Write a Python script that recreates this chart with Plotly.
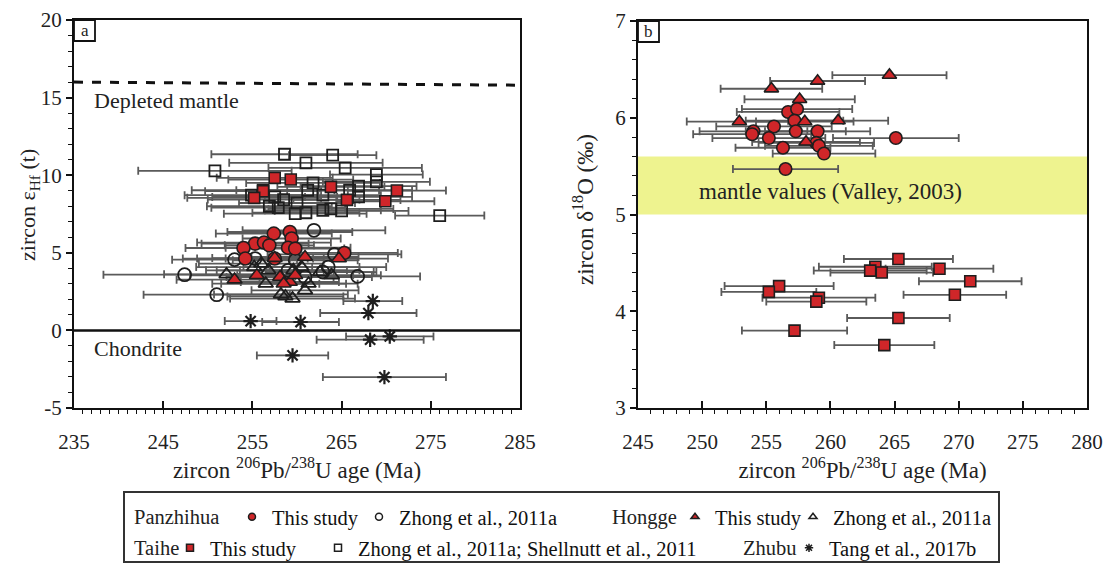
import plotly.graph_objects as go

FONT = "Liberation Serif, Times New Roman, Tinos, DejaVu Serif, serif"
RED = "#cf2629"
EDGE = "#1e1e1e"
ERR = "#5a5a5a"
BAND = "#eef38f"

# ---------------- Panel a: zircon eHf(t) vs age ----------------
pz_this_age = [257.4, 259.2, 259.4, 255.3, 256.3, 256.9, 254.0, 259.0, 259.8, 265.3, 254.2, 257.5]
pz_this_eps = [6.24, 6.34, 5.92, 5.59, 5.66, 5.48, 5.31, 5.33, 5.27, 4.99, 4.63, 4.63]
pz_this_err = [6.5, 7.0, 5.5, 6.0, 7.5, 5.0, 6.5, 7.0, 5.5, 6.0, 7.0, 5.5]

pz_zhong_age = [261.9, 253.0, 264.2, 247.4, 266.8, 251.0, 255.3, 262.9, 260.9, 259.0, 263.5, 259.8]
pz_zhong_eps = [6.45, 4.56, 4.90, 3.59, 3.48, 2.30, 4.63, 3.76, 3.44, 3.87, 4.08, 4.52]
pz_zhong_err = [8.0, 7.0, 7.5, 9.1, 7.0, 8.2, 6.5, 6.0, 7.5, 8.0, 6.5, 7.0]

hg_this_age = [264.7, 260.9, 257.5, 253.0, 255.5, 258.1, 259.2, 258.5, 259.8]
hg_this_eps = [4.63, 4.73, 4.66, 3.27, 3.55, 3.44, 3.12, 3.01, 3.55]
hg_this_err = [5.5, 6.0, 7.0, 6.5, 7.5, 6.0, 5.5, 7.0, 6.5]

hg_zhong_age = [252.1, 256.5, 255.2, 256.0, 260.9, 263.9, 262.6, 258.2, 258.7, 259.5, 261.3, 259.6, 256.8, 260.5]
hg_zhong_eps = [3.61, 3.01, 4.08, 4.30, 2.58, 3.55, 3.76, 2.32, 2.19, 2.05, 3.01, 3.87, 3.87, 4.08]
hg_zhong_err = [7.0, 6.0, 6.5, 7.0, 6.0, 5.5, 6.0, 7.5, 6.5, 7.0, 5.5, 6.0, 7.0, 6.5]

th_this_age = [257.5, 259.3, 263.8, 271.2, 256.2, 255.2, 265.6, 269.9]
th_this_eps = [9.83, 9.72, 9.25, 9.01, 8.97, 8.54, 8.41, 8.32]
th_this_err = [6.5, 7.0, 6.0, 5.5, 6.5, 7.5, 6.0, 5.5]

th_zhong_age = [258.6, 264.0, 261.0, 250.8, 265.4, 268.9, 268.9, 261.8, 266.9, 261.2, 265.9, 262.9, 266.9,
                254.9, 256.2, 257.5, 258.5, 260.0, 256.9, 257.9, 259.8, 261.0, 262.9, 263.8, 265.0, 276.0]
th_zhong_eps = [11.35, 11.29, 10.80, 10.28, 10.47, 10.04, 9.57, 9.50, 9.29, 9.03, 9.03, 8.71, 8.60,
                8.71, 9.03, 8.60, 8.43, 8.21, 8.00, 7.91, 7.52, 7.58, 7.74, 7.83, 7.70, 7.40]
th_zhong_err = [8.2, 4.9, 8.6, 8.6, 8.6, 5.2, 6.0, 7.5, 6.5, 8.0, 7.0, 6.5, 6.0,
                7.5, 8.0, 7.0, 8.5, 6.5, 7.0, 7.5, 8.0, 6.0, 6.5, 7.0, 7.5, 5.0]

zb_age = [268.5, 268.0, 254.8, 260.4, 270.4, 268.2, 259.5, 269.8]
zb_eps = [1.89, 1.12, 0.60, 0.54, -0.39, -0.60, -1.61, -3.01]
zb_err = [3.3, 5.4, 2.9, 4.3, 4.9, 6.0, 4.0, 6.9]

DM_LINE = [16.0, 15.8]   # depleted mantle line (left, right)
CHUR = 0.0

# ---------------- Panel b: zircon d18O vs age ----------------
pz_b_age = [256.7, 257.4, 257.2, 255.6, 254.0, 253.9, 257.3, 259.0, 255.2, 258.9, 259.1, 256.3, 259.5, 265.1, 256.5]
pz_b_d18o = [6.06, 6.09, 5.97, 5.91, 5.86, 5.83, 5.86, 5.86, 5.79, 5.74, 5.71, 5.69, 5.63, 5.79, 5.47]
pz_b_err = [4.0, 4.3, 3.8, 4.5, 4.2, 4.6, 3.9, 4.1, 4.4, 4.5, 4.2, 3.7, 4.0, 4.9, 4.1]

hg_b_age = [264.6, 259.0, 255.4, 257.6, 252.9, 258.0, 260.6, 258.1]
hg_b_d18o = [6.44, 6.38, 6.30, 6.19, 5.96, 5.96, 5.97, 5.75]
hg_b_err = [4.45, 3.7, 3.96, 4.3, 4.1, 3.8, 3.9, 4.2]

th_b_age = [265.3, 263.5, 263.1, 264.0, 268.5, 270.9, 269.7, 256.0, 255.2, 259.1, 258.9, 265.3, 257.2, 264.2]
th_b_d18o = [4.54, 4.46, 4.42, 4.40, 4.44, 4.31, 4.17, 4.26, 4.20, 4.14, 4.10, 3.93, 3.80, 3.65]
th_b_err = [4.25, 4.4, 4.4, 4.0, 4.2, 4.0, 4.0, 4.25, 3.7, 4.4, 3.9, 4.0, 4.1, 3.9]

MANTLE_BAND = [5.0, 5.6]

W, H = 1103, 564


def PX(px):
    return px / W


def PY(py):
    return 1 - py / H


fig = go.Figure()


def add_series(xa, ya, x, y, err, symbol, size, color, lw, lcolor):
    # error bars first (so markers sit on top)
    fig.add_trace(go.Scatter(
        x=x, y=y, mode="markers", xaxis=xa, yaxis=ya,
        marker=dict(size=1, color="rgba(0,0,0,0)"),
        error_x=dict(type="data", array=err, color=ERR, thickness=1.8, width=4),
        showlegend=False, hoverinfo="skip"))
    return dict(x=x, y=y, mode="markers", xaxis=xa, yaxis=ya, showlegend=False,
                marker=dict(symbol=symbol, size=size, color=color,
                            line=dict(width=lw, color=lcolor)))


markers = []
# panel a
markers.append(add_series("x", "y", th_zhong_age, th_zhong_eps, th_zhong_err, "square-open", 11, EDGE, 1.8, EDGE))
markers.append(add_series("x", "y", pz_zhong_age, pz_zhong_eps, pz_zhong_err, "circle-open", 13, EDGE, 1.8, EDGE))
markers.append(add_series("x", "y", hg_zhong_age, hg_zhong_eps, hg_zhong_err, "triangle-up-open", 13, EDGE, 1.8, EDGE))
markers.append(add_series("x", "y", th_this_age, th_this_eps, th_this_err, "square", 11, RED, 1.6, EDGE))
markers.append(add_series("x", "y", pz_this_age, pz_this_eps, pz_this_err, "circle", 13, RED, 1.6, EDGE))
markers.append(add_series("x", "y", hg_this_age, hg_this_eps, hg_this_err, "triangle-up", 13, RED, 1.6, EDGE))
markers.append(add_series("x", "y", zb_age, zb_eps, zb_err, "asterisk-open", 12, EDGE, 2.2, EDGE))
# panel b
markers.append(add_series("x2", "y2", th_b_age, th_b_d18o, th_b_err, "square", 11, RED, 1.6, EDGE))
markers.append(add_series("x2", "y2", pz_b_age, pz_b_d18o, pz_b_err, "circle", 12.5, RED, 1.6, EDGE))
markers.append(add_series("x2", "y2", hg_b_age, hg_b_d18o, hg_b_err, "triangle-up", 12.5, RED, 1.6, EDGE))
for m in markers:
    fig.add_trace(go.Scatter(hoverinfo="x+y", **m))

# ---------------- legend (legend-only traces) ----------------
leg_items = [
    ("legend", "This study", "circle", RED, EDGE, 7),
    ("legend2", "Zhong et al., 2011a", "circle-open", EDGE, EDGE, 7),
    ("legend3", "This study", "triangle-up", RED, EDGE, 7),
    ("legend4", "Zhong et al., 2011a", "triangle-up-open", EDGE, EDGE, 7),
    ("legend5", "This study", "square", RED, EDGE, 7),
    ("legend6", "Zhong et al., 2011a; Shellnutt et al., 2011", "square-open", EDGE, EDGE, 7),
    ("legend7", "Tang et al., 2017b", "asterisk-open", EDGE, EDGE, 7),
]
for lg, nm, sym, col, lc, sz in leg_items:
    fig.add_trace(go.Scatter(x=[None], y=[None], mode="markers", name=nm, legend=lg,
                             xaxis="x", yaxis="y", showlegend=True,
                             marker=dict(symbol=sym, size=sz, color=col, line=dict(width=1.5, color=lc))))

# legend text-start x (px) and row y (px), in page pixels
leg_pos = {"legend": (272, 517), "legend2": (399, 517), "legend3": (715, 517), "legend4": (833, 517),
           "legend5": (210, 548), "legend6": (358, 548), "legend7": (829, 548)}
leg_layout = {}
for k, (tx, ty) in leg_pos.items():
    leg_layout[k] = dict(x=PX(tx - 40), y=PY(ty), xanchor="left", yanchor="middle",
                         bgcolor="rgba(0,0,0,0)", borderwidth=0, itemsizing="trace",
                         font=dict(family=FONT, size=20.5, color="#111"), orientation="h")

tickfont = dict(family=FONT, size=21, color="#222")
xtitlefont = dict(family=FONT, size=23, color="#222")

common_x = dict(showline=True, linewidth=2, linecolor="#111", mirror=True, showgrid=False, zeroline=False,
                ticks="inside", ticklen=7, tickwidth=1.5, tickcolor="#111", tickfont=tickfont,
                ticklabelstandoff=14, automargin=False, ticklabeloverflow="allow")
common_y = dict(showline=True, linewidth=2, linecolor="#111", mirror=True, showgrid=False, zeroline=False,
                ticks="outside", ticklen=6, tickwidth=1.5, tickcolor="#111", tickfont=tickfont,
                automargin=False, ticklabeloverflow="allow")

fig.update_layout(
    template="none",
    width=W, height=H, margin=dict(l=0, r=0, t=0, b=0, autoexpand=False),
    paper_bgcolor="white", plot_bgcolor="white",
    font=dict(family=FONT, size=20, color="#222"),
    xaxis=dict(domain=[PX(74), PX(520)], range=[235, 285], tickvals=[235, 245, 255, 265, 275, 285],
               minor=dict(dtick=1, ticks="outside", ticklen=4, tickwidth=1, tickcolor="#111"),
               title=dict(text="zircon <sup>206</sup>Pb/<sup>238</sup>U age (Ma)", font=xtitlefont, standoff=8),
               anchor="y", **common_x),
    yaxis=dict(domain=[PY(408), PY(20)], range=[-5, 20], tickvals=[-5, 0, 5, 10, 15, 20],
               ticktext=["-5", "0", "5", "10", "15", "20"],
               minor=dict(dtick=1, ticks="outside", ticklen=4, tickwidth=1, tickcolor="#111"),
               anchor="x", **common_y),
    xaxis2=dict(domain=[PX(638), PX(1087)], range=[245, 280], tickvals=[245, 250, 255, 260, 265, 270, 275, 280],
                minor=dict(dtick=1, ticks="outside", ticklen=4, tickwidth=1, tickcolor="#111"),
                title=dict(text="zircon <sup>206</sup>Pb/<sup>238</sup>U age (Ma)", font=xtitlefont, standoff=4),
                anchor="y2", **common_x),
    yaxis2=dict(domain=[PY(408), PY(21)], range=[3, 7], tickvals=[3, 4, 5, 6, 7],
                minor=dict(dtick=0.2, ticks="outside", ticklen=4, tickwidth=1, tickcolor="#111"),
                anchor="x2", **common_y),
    **leg_layout,
)

shapes = [
    dict(type="line", xref="x", yref="y", x0=235, x1=285, y0=DM_LINE[0], y1=DM_LINE[1],
         line=dict(color="#111", width=3, dash="dash")),
    dict(type="line", xref="x", yref="y", x0=235, x1=285, y0=CHUR, y1=CHUR,
         line=dict(color="#111", width=2.5)),
    dict(type="rect", xref="x2 domain", yref="y2", x0=0, x1=1, y0=MANTLE_BAND[0], y1=MANTLE_BAND[1],
         fillcolor=BAND, line=dict(width=0), layer="below"),
    dict(type="rect", xref="x domain", yref="y domain", x0=0, x1=21 / 446, y0=1 - 21 / 388, y1=1,
         line=dict(color="#111", width=1.8), fillcolor="white"),
    dict(type="rect", xref="x2 domain", yref="y2 domain", x0=0, x1=21 / 449, y0=1 - 21 / 387, y1=1,
         line=dict(color="#111", width=1.8), fillcolor="white"),
    dict(type="rect", xref="paper", yref="paper", x0=PX(124), x1=PX(999), y0=PY(562), y1=PY(492),
         line=dict(color="#333", width=2), fillcolor="rgba(0,0,0,0)"),
]
fig.update_layout(shapes=shapes)


def note(text, x, y, size=20, **kw):
    d = dict(text=text, x=x, y=y, showarrow=False, font=dict(family=FONT, size=size, color="#222"))
    d.update(kw)
    return d


ann = [
    note("a", 10.5 / 446, 1 - 10.5 / 388, 17, xref="x domain", yref="y domain", xanchor="center", yanchor="middle"),
    note("b", 10.5 / 449, 1 - 10.5 / 387, 17, xref="x2 domain", yref="y2 domain", xanchor="center", yanchor="middle"),
    note("Depleted mantle", 237.0, 14.84, 22, xref="x", yref="y", xanchor="left"),
    note("Chondrite", 237.0, -1.16, 22, xref="x", yref="y", xanchor="left"),
    note("mantle values (Valley, 2003)", 249.6, 5.24, 23, xref="x2", yref="y2", xanchor="left"),
    # y-axis titles
    note("zircon ε<sub>Hf</sub> (t)", PX(29), PY(205), 22, xref="paper", yref="paper", textangle=-90,
         xanchor="center", yanchor="middle"),
    note("zircon δ<sup>18</sup>O (‰)", PX(583), PY(210), 23, xref="paper", yref="paper", textangle=-90,
         xanchor="center", yanchor="middle"),
    # legend group labels
    note("Panzhihua", PX(132), PY(517), 20.5, xref="paper", yref="paper", xanchor="left", yanchor="middle"),
    note("Hongge", PX(610), PY(517), 20.5, xref="paper", yref="paper", xanchor="left", yanchor="middle"),
    note("Taihe", PX(132), PY(548), 20.5, xref="paper", yref="paper", xanchor="left", yanchor="middle"),
    note("Zhubu", PX(741), PY(548), 20.5, xref="paper", yref="paper", xanchor="left", yanchor="middle"),
]
fig.update_layout(annotations=ann)

# the page body's default 8px margin would push the 1103x564 figure out of the window
fig.write_html("out.html", config={"displayModeBar": False},
               post_script="document.body.style.margin='0px';")
